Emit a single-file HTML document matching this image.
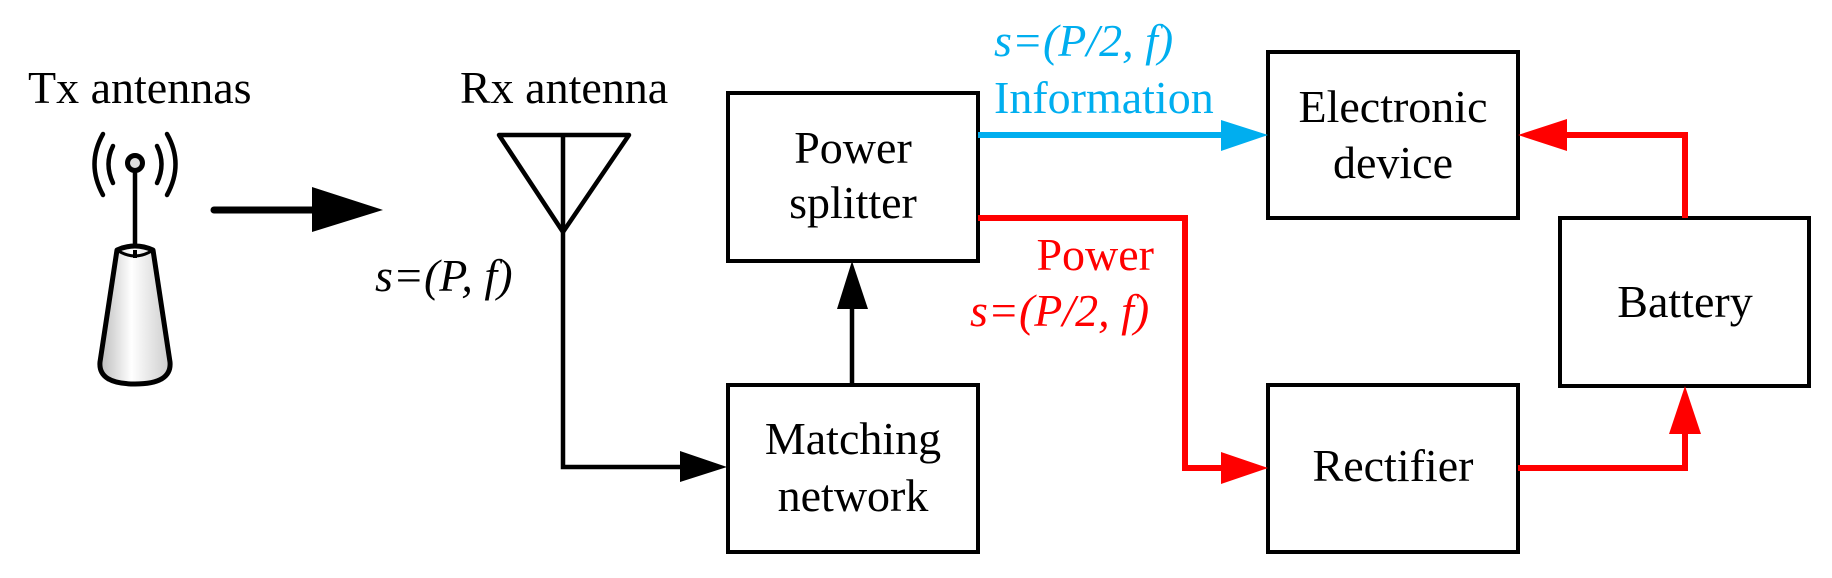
<!DOCTYPE html>
<html><head><meta charset="utf-8"><style>
html,body{margin:0;padding:0;background:#fff}
svg{display:block}
text{font-family:"Liberation Serif","Times New Roman","DejaVu Serif",serif !important;font-size:46px}
</style></head>
<body>
<svg width="1832" height="578" viewBox="0 0 1832 578" xmlns="http://www.w3.org/2000/svg">
<defs>
<linearGradient id="g" x1="0" x2="1" y1="0" y2="0">
<stop offset="0" stop-color="#bbb"/><stop offset="0.45" stop-color="#fff"/><stop offset="1" stop-color="#ccc"/>
</linearGradient>
</defs>
<text x="28" y="103">Tx antennas</text>
<path d="M113 146 Q104 164 113 183" fill="none" stroke="#000" stroke-width="4.5" stroke-linecap="round"/>
<path d="M157 146 Q166 164 157 183" fill="none" stroke="#000" stroke-width="4.5" stroke-linecap="round"/>
<path d="M103 134 Q86 164 103 195" fill="none" stroke="#000" stroke-width="4.5" stroke-linecap="round"/>
<path d="M167 134 Q184 164 167 195" fill="none" stroke="#000" stroke-width="4.5" stroke-linecap="round"/>
<line x1="135" y1="163" x2="135" y2="250" stroke="#000" stroke-width="4.5"/>
<circle cx="135" cy="163" r="7.5" fill="#ddd" stroke="#000" stroke-width="5"/>
<path d="M117 250 Q135 242 153 250 L170 362 Q172 384 135 384 Q98 384 100 362 Z" fill="url(#g)" stroke="#000" stroke-width="5" stroke-linejoin="round"/>
<path d="M117 250 Q135 262 153 250" fill="none" stroke="#000" stroke-width="3"/>
<line x1="135" y1="250" x2="135" y2="258" stroke="#000" stroke-width="4"/>
<line x1="214" y1="210" x2="315" y2="210" stroke="#000" stroke-width="7" stroke-linecap="round"/>
<polygon points="312,187 383,210 312,232" fill="#000"/>
<text x="460" y="103">Rx antenna</text>
<polygon points="499,135 629,135 563,232" fill="none" stroke="#000" stroke-width="4.5" stroke-linejoin="round"/>
<polyline points="563,135 563,467 685,467" fill="none" stroke="#000" stroke-width="4.5"/>
<polygon points="680,451 727,467 680,482" fill="#000"/>
<text x="375" y="291" font-style="italic">s=(P, f)</text>
<g fill="none" stroke="#000" stroke-width="4">
<rect x="728" y="93" width="250" height="168"/>
<rect x="728" y="385" width="250" height="167"/>
<rect x="1268" y="52" width="250" height="166"/>
<rect x="1560" y="218" width="249" height="168"/>
<rect x="1268" y="385" width="250" height="167"/>
</g>
<g text-anchor="middle">
<text x="853" y="163">Power</text>
<text x="853" y="218">splitter</text>
<text x="853" y="454">Matching</text>
<text x="853" y="511">network</text>
<text x="1393" y="122">Electronic</text>
<text x="1393" y="178">device</text>
<text x="1685" y="317">Battery</text>
<text x="1393" y="481">Rectifier</text>
</g>
<line x1="852" y1="385" x2="852" y2="300" stroke="#000" stroke-width="4.5"/>
<polygon points="837,309 852,261 868,309" fill="#000"/>
<line x1="978" y1="135" x2="1225" y2="135" stroke="#00aeef" stroke-width="6"/>
<polygon points="1221,120 1268,135 1221,151" fill="#00aeef"/>
<text x="994" y="56" fill="#00aeef" font-style="italic">s=(P/2, f)</text>
<text x="994" y="113" fill="#00aeef">Information</text>
<polyline points="978,218 1185,218 1185,468 1225,468" fill="none" stroke="#f00" stroke-width="6"/>
<polygon points="1221,452 1268,468 1221,484" fill="#f00"/>
<polyline points="1518,468 1685,468 1685,430" fill="none" stroke="#f00" stroke-width="6"/>
<polygon points="1669,434 1685,386 1701,434" fill="#f00"/>
<polyline points="1685,218 1685,135 1562,135" fill="none" stroke="#f00" stroke-width="6"/>
<polygon points="1567,119 1518,135 1567,151" fill="#f00"/>
<text x="1154" y="270" fill="#f00" text-anchor="end">Power</text>
<text x="970" y="326" fill="#f00" font-style="italic">s=(P/2, f)</text>
</svg>
</body></html>
